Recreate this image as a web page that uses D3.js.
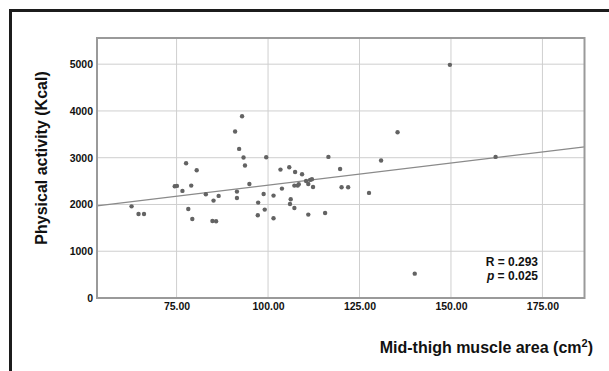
<!DOCTYPE html>
<html>
<head>
<meta charset="utf-8">
<script src="https://cdn.jsdelivr.net/npm/d3@7"></script>
<style>
  body { margin: 0; background: #fff; }
  text { font-family: "Liberation Sans", Arial, sans-serif; }
</style>
</head>
<body>
<svg id="chart"></svg>
<script>
// muscle area (cm2) and physical activity (Kcal)
const muscleArea = [62.7, 64.6, 66.1, 74.5, 75.1, 76.6, 77.6, 78.2, 79.0, 79.3,
    80.5, 83.0, 85.1, 84.8, 85.8, 86.5, 91.0, 91.5, 91.5, 92.1,
    92.9, 93.3, 93.7, 94.9, 97.3, 97.2, 98.8, 99.1, 99.5, 101.5,
    101.5, 103.4, 103.8, 105.8, 106.2, 106.0, 107.2, 107.4, 107.2, 108.1,
    108.4, 109.3, 110.4, 111.0, 111.5, 112.0, 112.3, 111.0, 115.6, 116.5,
    119.7, 120.1, 121.9, 127.6, 130.9, 135.4, 140.1, 149.7, 162.2];
const activity = [1960, 1797, 1797, 2390, 2397, 2290, 2882, 1904, 2404, 1690,
    2732, 2218, 2083, 1648, 1640, 2183, 3559, 2275, 2140, 3188,
    3887, 3003, 2832, 2439, 2040, 1769, 2225, 1890, 3010, 2190,
    1705, 2746, 2340, 2796, 2111, 2011, 1926, 2696, 2404, 2404,
    2432, 2646, 2503, 2439, 2525, 2539, 2375, 1783, 1819, 3017,
    2760, 2368, 2368, 2247, 2939, 3545, 521, 4986, 3017];

const xTicks = [75, 100, 125, 150, 175];
const yTicks = [0, 1000, 2000, 3000, 4000, 5000];

// fitted line: activity = intercept + slope * area
const fitIntercept = 1465;
const fitSlope = 9.47;
const statLines = ["R = 0.293", "p = 0.025"];

const W = 609, H = 371;
const margin = {top: 38, right: 24.5, bottom: 73, left: 97};
const width = W - margin.left - margin.right;
const height = H - margin.top - margin.bottom;

const svg = d3.select("#chart").attr("width", W).attr("height", H);

// outer black box (runs off the right and bottom edges)
svg.append("rect")
    .attr("x", 10.5).attr("y", 10.5)
    .attr("width", 640).attr("height", 420)
    .attr("fill", "#fff")
    .attr("stroke", "#1c1c1c").attr("stroke-width", 3);

const g = svg.append("g").attr("transform", `translate(${margin.left},${margin.top})`);

const x = d3.scaleLinear().domain([53.25, 186.5]).range([0, width]);
const y = d3.scaleLinear().domain([0, 5560]).range([height, 0]);

// grid
g.append("g").selectAll("line.vx")
    .data(xTicks).join("line")
    .attr("x1", d => x(d)).attr("x2", d => x(d))
    .attr("y1", 0).attr("y2", height)
    .attr("stroke", "#cfcfcf").attr("stroke-width", 1);
g.append("g").selectAll("line.hy")
    .data(yTicks).join("line")
    .attr("x1", 0).attr("x2", width)
    .attr("y1", d => y(d)).attr("y2", d => y(d))
    .attr("stroke", "#cfcfcf").attr("stroke-width", 1);

// axes (labels only)
const xAxis = g.append("g")
    .attr("transform", `translate(0,${height})`)
    .call(d3.axisBottom(x).tickValues(xTicks).tickSize(0).tickPadding(5)
        .tickFormat(d => d.toFixed(2)));
const yAxis = g.append("g")
    .call(d3.axisLeft(y).tickValues(yTicks).tickSize(0).tickPadding(4)
        .tickFormat(d3.format("d")));
[xAxis, yAxis].forEach(a => {
    a.select(".domain").remove();
    a.selectAll("text")
        .attr("fill", "#111")
        .style("font-family", '"Liberation Sans", Arial, sans-serif')
        .style("font-size", "10.5px")
        .style("font-weight", "bold");
});

// regression line
const x0 = x.domain()[0], x1 = x.domain()[1];
g.append("line")
    .attr("x1", x(x0)).attr("y1", y(fitIntercept + fitSlope * x0))
    .attr("x2", x(x1)).attr("y2", y(fitIntercept + fitSlope * x1))
    .attr("stroke", "#8a8a8a").attr("stroke-width", 1.2);

// points
g.append("g").selectAll("circle")
    .data(muscleArea.map((m, i) => [m, activity[i]]))
    .join("circle")
    .attr("cx", d => x(d[0]))
    .attr("cy", d => y(d[1]))
    .attr("r", 2.2)
    .attr("fill", "#636363");

// frame
g.append("rect")
    .attr("width", width).attr("height", height)
    .attr("fill", "none")
    .attr("stroke", "#9a9a9a").attr("stroke-width", 2);

// stats
const stat = g.append("text")
    .attr("text-anchor", "end")
    .attr("font-size", 12).attr("font-weight", "bold").attr("fill", "#111");
stat.append("tspan").attr("x", 441).attr("y", 228).text(statLines[0]);
const pLine = stat.append("tspan").attr("x", 441).attr("y", 241.5);
pLine.append("tspan").attr("font-style", "italic").text(statLines[1].slice(0, 1));
pLine.append("tspan").text(statLines[1].slice(1));

// axis titles
svg.append("text")
    .attr("transform", `translate(47,${margin.top + height / 2 - 10}) rotate(-90)`)
    .attr("text-anchor", "middle")
    .attr("font-size", 16).attr("font-weight", "bold").attr("fill", "#111")
    .text("Physical activity (Kcal)");

const xt = svg.append("text")
    .attr("x", 593).attr("y", 353)
    .attr("text-anchor", "end")
    .attr("font-size", 16).attr("font-weight", "bold").attr("fill", "#111")
    .text("Mid-thigh muscle area (cm");
xt.append("tspan").attr("font-size", 11).attr("dy", -6).text("2");
xt.append("tspan").attr("dy", 6).text(")");
</script>
</body>
</html>
